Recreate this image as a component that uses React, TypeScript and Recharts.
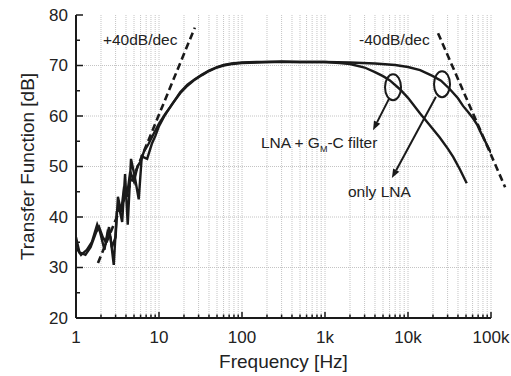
import React from "react";
import {
  LineChart,
  Line,
  XAxis,
  YAxis,
  CartesianGrid,
  ReferenceLine,
  ReferenceDot,
  Label,
} from "recharts";

// measured curves (frequency in Hz, gain in dB)
const lnaFreq = [
  1, 1.15, 1.35, 1.55, 1.8, 1.95, 2.2, 2.4, 2.6, 2.85, 3.1, 3.3, 3.6, 3.9, 4.2, 4.6, 5.1, 5.7, 6.2, 7.2,
  8.2, 9, 10, 11.8, 14.3, 18, 22, 27, 33, 40, 50, 60, 75, 100, 150, 200, 300, 500, 700, 1000,
  2000, 4000, 7000, 10000, 14000, 20000, 25000, 32000, 40000, 46000, 53000, 61000, 68000, 74000, 85000, 100000,
];
const lnaGain = [
  34, 32.5, 33.5, 35, 38.5, 37, 33.5, 37, 36, 30.5, 41, 42, 39, 48.5, 38.5, 51.5, 48, 43.5, 52, 51.5,
  54.5, 56, 58, 60.2, 62.3, 64.5, 66, 67.2, 68.1, 68.9, 69.6, 70, 70.3, 70.5, 70.6, 70.7, 70.7, 70.7, 70.7, 70.7,
  70.6, 70.4, 70.1, 69.7, 69.1, 67.9, 67, 65.3, 63.5, 62, 60.8, 59.5, 58.3, 57, 55, 52.7,
];

const filtFreq = [
  1, 1.1, 1.3, 1.5, 1.75, 1.9, 2.1, 2.3, 2.5, 2.7, 3, 3.2, 3.5, 3.8, 4.1, 4.5, 5, 5.5, 6, 6.6,
  7.5, 8.5, 10, 12, 14, 18, 22, 27, 33, 40, 50, 60, 75, 100, 150, 200, 300, 500, 700, 1000,
  1500, 2000, 3000, 4000, 5000, 6000, 8000, 10000, 14000, 18000, 24000, 30000, 35000, 42000, 51000,
];
const filtGain = [
  36, 33, 32.5, 34, 37, 38, 36, 35, 38, 34, 36, 44, 41, 46, 44, 49, 47, 50, 51, 53,
  54.5, 56.3, 58.5, 60.5, 62, 64.7, 66.2, 67.3, 68.2, 69, 69.7, 70.1, 70.4, 70.6, 70.7, 70.7, 70.8, 70.7, 70.7, 70.7,
  70.5, 70.3, 69.6, 68.7, 67.9, 67.1, 65.3, 63.6, 60.5, 58.3, 55.8, 53.6, 51.9, 49.5, 46.7,
];

// asymptotes
const riseF = [1.84, 27];
const riseG = [30.9, 77.5];
const fallF = [23000, 148000];
const fallG = [76.4, 45.9];

// annotation anchors
const ellipseF = [6600, 25700];
const ellipseG = [65.7, 66.3];
const arrowFromF = [5900, 21700];
const arrowFromG = [63.4, 63.8];
const arrowToF = [3790, 6400];
const arrowToG = [57.2, 47.7];

// axes
const decades = [1, 10, 100, 1000, 10000];
const multipliers = [1, 2, 3, 4, 5, 6, 7, 8, 9];
const xMajor = [1, 10, 100, 1000, 10000, 100000];
const xMajorText = ["1", "10", "100", "1k", "10k", "100k"];
const yTicks = [20, 25, 30, 35, 40, 45, 50, 55, 60, 65, 70, 75, 80];
const yGrid = [30, 40, 50, 60, 70];

const xTicks = [...decades.flatMap((d) => multipliers.map((m) => m * d)), 100000];
const lnaData = lnaFreq.map((f, i) => ({ f, v: lnaGain[i] }));
const filtData = filtFreq.map((f, i) => ({ f, v: filtGain[i] }));

const FONT = "'Liberation Sans', Arial, sans-serif";
const INK = "#1a1a1a";

const majorIdx = (v: number) => xMajor.findIndex((m) => Math.abs(m - v) < 1e-6);

const BottomTick = ({ x, y, payload }: any) => {
  const i = majorIdx(payload.value);
  return (
    <g>
      <line x1={x} x2={x} y1={y} y2={y - (i >= 0 ? 6 : 3.5)} stroke={INK} strokeWidth={1.5} />
      {i >= 0 && (
        <text x={x} y={y + 19} dy="0.35em" textAnchor="middle" fontSize={17} fill="#222" fontFamily={FONT}>
          {xMajorText[i]}
        </text>
      )}
    </g>
  );
};

const TopTick = ({ x, y, payload }: any) => {
  const i = majorIdx(payload.value);
  return <line x1={x} x2={x} y1={y} y2={y + (i >= 0 ? 6 : 3.5)} stroke={INK} strokeWidth={1.5} />;
};

const LeftTick = ({ x, y, payload }: any) => {
  const major = payload.value % 10 === 0;
  return (
    <g>
      <line x1={x} x2={x + (major ? 7 : 4)} y1={y} y2={y} stroke={INK} strokeWidth={1.5} />
      {major && (
        <text x={x - 8} y={y} dy="0.35em" textAnchor="end" fontSize={17} fill="#222" fontFamily={FONT}>
          {payload.value}
        </text>
      )}
    </g>
  );
};

const RightTick = ({ x, y, payload }: any) => {
  const major = payload.value % 10 === 0;
  return <line x1={x} x2={x - (major ? 7 : 4)} y1={y} y2={y} stroke={INK} strokeWidth={1.5} />;
};

const Arrow = (p: any) => {
  const { x1, y1, x2, y2 } = p;
  const a = Math.atan2(y2 - y1, x2 - x1);
  const L = 9;
  const W = 3.5;
  const bx = x2 - L * Math.cos(a);
  const by = y2 - L * Math.sin(a);
  const px = -Math.sin(a) * W;
  const py = Math.cos(a) * W;
  return (
    <g>
      <line x1={x1} y1={y1} x2={bx} y2={by} stroke={INK} strokeWidth={2} />
      <polygon points={`${x2},${y2} ${bx + px},${by + py} ${bx - px},${by - py}`} fill={INK} />
    </g>
  );
};

const Ellipse = ({ cx, cy }: any) => (
  <ellipse cx={cx} cy={cy} rx={8} ry={13} fill="none" stroke={INK} strokeWidth={2} />
);

const txt = (content: React.ReactNode) => ({ cx, cy }: any) => (
  <text x={cx} y={cy} fontSize={15.5} fill="#222" fontFamily={FONT}>
    {content}
  </text>
);

export default function App() {
  return (
    <div style={{ position: "fixed", left: 0, top: 0, background: "#fff" }}>
      <LineChart width={511} height={376} margin={{ top: 15, right: 20, left: 0, bottom: 0 }}>
        <CartesianGrid stroke="#c4c4c4" strokeDasharray="1 1" horizontalValues={yGrid} />
        <XAxis
          dataKey="f"
          type="number"
          scale="log"
          domain={[1, 100000]}
          allowDataOverflow
          ticks={xTicks}
          interval={0}
          tickSize={0}
          tickMargin={0}
          tick={<BottomTick />}
          height={58}
          axisLine={{ stroke: INK, strokeWidth: 2 }}
        >
          <Label value="Frequency [Hz]" position="insideBottom" offset={8} fontSize={19} fill="#222" fontFamily={FONT} />
        </XAxis>
        <XAxis
          xAxisId="t"
          orientation="top"
          dataKey="f"
          type="number"
          scale="log"
          domain={[1, 100000]}
          allowDataOverflow
          ticks={xTicks}
          interval={0}
          tickSize={0}
          tickMargin={0}
          tick={<TopTick />}
          height={0}
          axisLine={{ stroke: INK, strokeWidth: 2 }}
        />
        <YAxis
          type="number"
          domain={[20, 80]}
          allowDataOverflow
          ticks={yTicks}
          interval={0}
          tickSize={0}
          tickMargin={0}
          tick={<LeftTick />}
          width={76}
          axisLine={{ stroke: INK, strokeWidth: 2 }}
        >
          <Label
            value="Transfer Function [dB]"
            angle={-90}
            position="insideLeft"
            offset={27}
            fontSize={19}
            fill="#222"
            fontFamily={FONT}
            style={{ textAnchor: "middle" }}
          />
        </YAxis>
        <YAxis
          yAxisId="r"
          orientation="right"
          type="number"
          domain={[20, 80]}
          allowDataOverflow
          ticks={yTicks}
          interval={0}
          tickSize={0}
          tickMargin={0}
          tick={<RightTick />}
          width={0}
          axisLine={{ stroke: INK, strokeWidth: 2 }}
        />

        <Line data={lnaData} dataKey="v" stroke={INK} strokeWidth={2.4} dot={false} isAnimationActive={false} />
        <Line data={filtData} dataKey="v" stroke={INK} strokeWidth={2.4} dot={false} isAnimationActive={false} />

        <ReferenceLine
          segment={[{ x: riseF[0], y: riseG[0] }, { x: riseF[1], y: riseG[1] }]}
          stroke={INK}
          strokeWidth={2.6}
          strokeDasharray="7 4"
          ifOverflow="visible"
        />
        <ReferenceLine
          segment={[{ x: fallF[0], y: fallG[0] }, { x: fallF[1], y: fallG[1] }]}
          stroke={INK}
          strokeWidth={2.6}
          strokeDasharray="7 4"
          ifOverflow="visible"
        />

        {ellipseF.map((f, i) => (
          <ReferenceDot key={`e${i}`} x={f} y={ellipseG[i]} r={1} shape={<Ellipse />} ifOverflow="visible" />
        ))}
        {arrowFromF.map((f, i) => (
          <ReferenceLine
            key={`a${i}`}
            segment={[{ x: f, y: arrowFromG[i] }, { x: arrowToF[i], y: arrowToG[i] }]}
            shape={Arrow}
            ifOverflow="visible"
          />
        ))}

        <ReferenceDot x={2.11} y={74.06} r={1} shape={txt("+40dB/dec")} ifOverflow="visible" />
        <ReferenceDot x={2570} y={74.06} r={1} shape={txt("-40dB/dec")} ifOverflow="visible" />
        <ReferenceDot
          x={169}
          y={53.7}
          r={1}
          ifOverflow="visible"
          shape={txt(
            <>
              LNA + G
              <tspan dy={4} fontSize={9}>
                M
              </tspan>
              <tspan dy={-4}>-C filter</tspan>
            </>
          )}
        />
        <ReferenceDot x={1890} y={44.0} r={1} shape={txt("only LNA")} ifOverflow="visible" />
      </LineChart>
    </div>
  );
}
